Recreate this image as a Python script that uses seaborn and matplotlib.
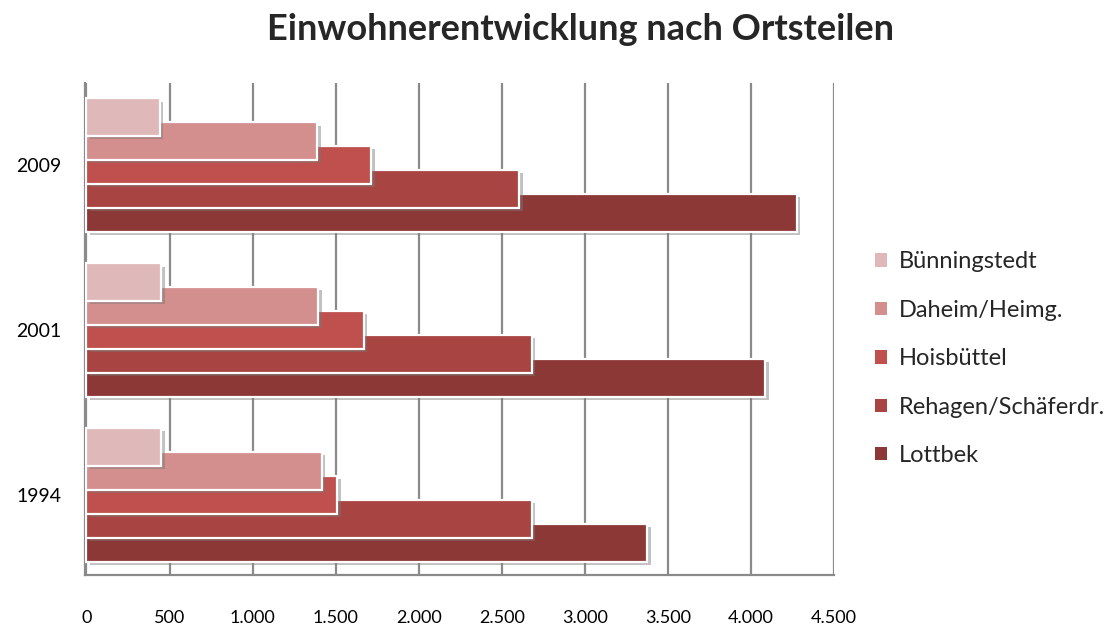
import matplotlib
matplotlib.use("Agg")
import matplotlib.pyplot as plt
import matplotlib.patheffects as pe
import seaborn as sns
import pandas as pd

years = ["2009", "2001", "1994"]
series = ["Bünningstedt", "Daheim/Heimg.", "Hoisbüttel", "Rehagen/Schäferdr.", "Lottbek"]
buenningstedt = [440, 450, 450]
daheim = [1390, 1395, 1415]
hoisbuettel = [1715, 1670, 1510]
rehagen = [2605, 2680, 2680]
lottbek = [4275, 4085, 3375]
xticks = [0, 500, 1000, 1500, 2000, 2500, 3000, 3500, 4000, 4500]
xticklabels = ["0", "500", "1.000", "1.500", "2.000", "2.500", "3.000", "3.500", "4.000", "4.500"]
title = "Einwohnerentwicklung nach Ortsteilen"

colors = ["#dfb9b9", "#d28f8e", "#bf504d", "#a84543", "#8c3836"]

rows = []
for name, vals in zip(series, [buenningstedt, daheim, hoisbuettel, rehagen, lottbek]):
    for y, v in zip(years, vals):
        rows.append({"Jahr": y, "Ortsteil": name, "Einwohner": v})
df = pd.DataFrame(rows)

sns.set_theme(style="white")
plt.rcParams["font.family"] = ["Lato", "DejaVu Sans"]

fig = plt.figure(figsize=(11.2, 6.25), dpi=100)
ax = fig.add_axes([85 / 1120, 1 - 575 / 625, (834 - 85) / 1120, (575 - 83) / 625])

sns.barplot(data=df, y="Jahr", x="Einwohner", hue="Ortsteil", order=years,
            hue_order=series, palette=colors, orient="h", width=0.727,
            dodge=True, ax=ax, legend=False, saturation=1)

bar_h = 0.23
for i, cont in enumerate(ax.containers):
    for p in cont.patches:
        c = p.get_y() + p.get_height() / 2
        p.set_y(c - bar_h / 2)
        p.set_height(bar_h)
        p.set_zorder(10 - i)
        p.set_edgecolor("white")
        p.set_linewidth(1.6)
        p.set_path_effects([pe.SimplePatchShadow(offset=(2.5, -2.5), shadow_rgbFace="#777777", alpha=0.45),
                            pe.Normal()])

ax.set_xlim(-9, 4500)
ax.set_ylim(2.485, -0.497)
ax.set_xticks(xticks)
ax.set_xticklabels(xticklabels)
ax.xaxis.grid(True, color="#8a8a8a", linewidth=1.6)
ax.set_axisbelow(True)
for s in ["top", "right"]:
    ax.spines[s].set_visible(False)
for s in ["left", "bottom"]:
    ax.spines[s].set_color("#8a8a8a")
    ax.spines[s].set_linewidth(1.6)
ax.tick_params(axis="x", length=0, pad=25, labelsize=13, colors="black")
ax.tick_params(axis="y", length=0, pad=17, labelsize=14, colors="black")
ax.set_xlabel("")
ax.set_ylabel("")

fig.text(0.518, 0.952, title, ha="center", va="center", fontsize=26, fontweight="bold")

handles = [plt.Rectangle((0, 0), 1, 1, facecolor=c, edgecolor="none") for c in colors]
fig.legend(handles, series, loc="upper left", bbox_to_anchor=(866 / 1120, 1 - 242 / 625),
           frameon=False, fontsize=17, handlelength=0.5, handleheight=0.5,
           handletextpad=0.5, labelspacing=1.16, borderaxespad=0)

fig.savefig("out.png", dpi=100)
